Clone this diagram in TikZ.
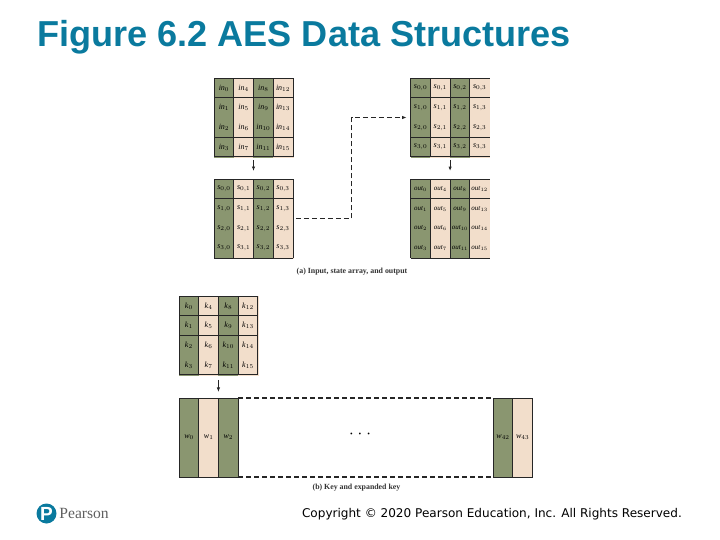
\documentclass[tikz,border=0pt]{standalone}
\usepackage{fontspec}
\setmainfont{Liberation Serif}
\newfontfamily\titlefont[Kerning=Off]{Liberation Sans}
\newfontfamily\copyfont{DejaVu Sans}
\usepackage{tikz}
\usetikzlibrary{arrows.meta,positioning,calc}
\definecolor{aesTeal}{HTML}{0A7A9E}
\definecolor{aesGreen}{HTML}{8A9670}
\definecolor{aesPeach}{HTML}{F2DECB}
\definecolor{muted}{HTML}{5F5F5F}
\tikzset{
  gridframe/.style={minimum width=78.8pt,minimum height=78.8pt,inner sep=0pt,outer sep=0pt},
  gridcell/.style={minimum width=19.7pt,minimum height=19.7pt,inner sep=0pt,outer sep=0pt,line width=.2pt,font=\fontsize{8}{9}\selectfont},
  gridline/.style={line width=.8pt,black!85},
  widecell/.style={draw=black!85,line width=.8pt,minimum width=19.7pt,minimum height=79pt,inner sep=0pt,outer sep=0pt,font=\fontsize{8}{9}\selectfont},
  flow/.style={-{Latex[length=1.6mm,width=1.2mm]},line width=.8pt,black!85},
  keydash/.style={line width=1.3pt,dash pattern=on 5pt off 3pt,black!85},
  caption/.style={font=\fontsize{7.85}{9}\selectfont\bfseries,text=black!80,inner sep=0pt}
}
% name, x, y, rows with a rule, cell text
\newcommand{\aesgrid}[5]{
  \node[gridframe] (#1) at (#2,#3) {};
  \foreach \c/\colfill in {0/aesGreen,1/aesPeach,2/aesGreen,3/aesPeach}
    \foreach \r in {0,...,3} {
      \pgfmathtruncatemacro{\n}{4*\c+\r}
      \node[gridcell,fill=\colfill,draw=\colfill] (#1-\r-\c) at ($(#1.north west)+(9.85+19.7*\c,9.85+19.7*\r)$) {#5};
    }
  \foreach \c in {0,...,3}
    \draw[gridline] (#1-0-\c.north west) -- (#1-3-\c.south west);
  \foreach \r in {#4}
    \draw[gridline] (#1-\r-0.north west) -- (#1-\r-3.north east);
  \draw[gridline] (#1-3-0.south west) -- (#1-3-3.south east);
}
\begin{document}
\begin{tikzpicture}[x=1pt,y=-1pt]
        \useasboundingbox (0,0) rectangle (720,540);
        \node[anchor=base west,inner sep=0pt,text=aesTeal,font=\fontsize{36.1}{40}\selectfont\titlefont\bfseries] (title) at (37,46.7)
          {Figure 6.2 AES Data Structures};
        % (a)
        \aesgrid{ingrid}{253.5}{117.5}{0,1,3}{\textit{in}$_{\n}$}
        \aesgrid{stategrid}{253.5}{218.5}{0,1}{\textit{s}$_{\r,\c}$}
        \aesgrid{statetwo}{450.1}{117.5}{0,1,3}{\textit{s}$_{\r,\c}$}
        \aesgrid{outgrid}{450.1}{218.5}{0,1}{\fontsize{7}{8}\selectfont\textit{out}$_{\n}$}
        \draw[gridline] (ingrid-0-3.north east) -- (ingrid-3-3.south east);
        \draw[gridline] (stategrid-0-3.north east) -- (stategrid-3-3.south east);
        \draw[flow,shorten <=3pt,shorten >=8pt] (ingrid.south) -- (stategrid.north);
        \draw[flow,line width=1.2pt,shorten <=3pt,shorten >=8pt] (statetwo.south) -- (outgrid.north);
        \coordinate (bend) at (351.7,218.5);
        \draw[-{Latex[length=1.6mm,width=1.2mm]},line width=.9pt,dash pattern=on 5pt off 3pt,black!85,shorten <=3pt,shorten >=4pt]
          (stategrid.east) -- (bend) |- (statetwo.west);
        \node[caption] (capa) at (352,272) {(a) Input, state array, and output};
        % (b)
        \aesgrid{keygrid}{218.4}{335.4}{0,1,2}{\textit{k}$_{\n}$}
        \draw[gridline] (keygrid-0-3.north east) -- (keygrid-3-3.south east);
        \node[widecell,fill=aesGreen] (w0) at (189,437.5) {\textit{w}$_{0}$};
        \node[widecell,fill=aesPeach,right=0pt of w0] (w1) {\textit{w}$_{1}$};
        \node[widecell,fill=aesGreen,right=0pt of w1] (w2) {\textit{w}$_{2}$};
        \node[widecell,fill=aesGreen] (w42) at (503,437.5) {\textit{w}$_{42}$};
        \node[widecell,fill=aesPeach,right=0pt of w42] (w43) {\textit{w}$_{43}$};
        \draw[keydash] (w2.north east) -- (w42.north west);
        \draw[keydash] (w2.south east) -- (w42.south west);
        \draw[flow,shorten <=5pt,shorten >=6pt] (keygrid.south) -- (keygrid.south |- w0.north);
        \node[inner sep=0pt,font=\fontsize{7.5}{8}\selectfont] (dots) at (360,435) {•\hspace{6pt}•\hspace{6pt}•};
        \node[caption] (capb) at (356.5,488) {(b) Key and expanded key};
        % footer
        \node[circle,fill=aesTeal,text=white,inner sep=0pt,minimum size=20pt,font=\fontsize{19}{19}\selectfont\titlefont\bfseries] (logo) at (46.5,513.5) {P};
        \node[anchor=west,inner sep=0pt,text=muted,font=\fontsize{15.6}{16}\selectfont,right=2.5pt of logo] (brand) {Pearson};
        \node[anchor=base east,inner sep=0pt,font=\fontsize{12.05}{13}\selectfont\copyfont] (copyright) at (682,517.5)
          {Copyright © 2020 Pearson Education, Inc. All Rights Reserved.};
      \end{tikzpicture}
\end{document}
